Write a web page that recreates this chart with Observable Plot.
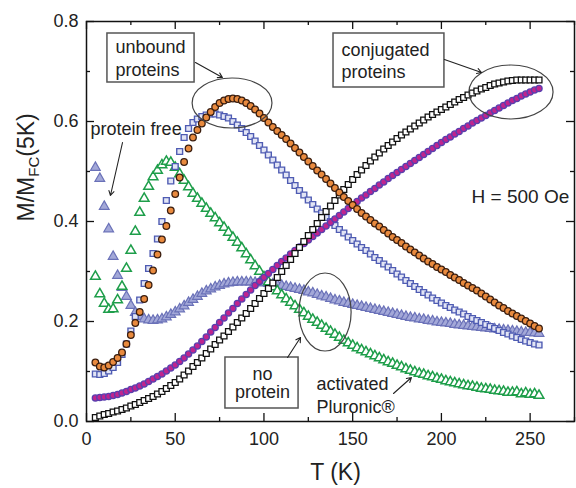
<!DOCTYPE html>
<html><head><meta charset="utf-8">
<script src="https://cdn.jsdelivr.net/npm/d3@7"></script>
<script src="https://cdn.jsdelivr.net/npm/@observablehq/plot@0.6"></script>
<style>body{margin:0;background:#fff} #chart{width:576px;height:488px}</style>
</head><body><div id="chart"></div>
<script>
// Temperature grid (K)
const T = [5,7.5,10,12.5,15,17.5,20,22.5,25,27.5,
30,32.5,35,37.5,40,42.5,45,47.5,50,52.5,
55,57.5,60,62.5,65,67.5,70,72.5,75,77.5,
80,82.5,85,87.5,90,92.5,95,97.5,100,102.5,
105,107.5,110,112.5,115,117.5,120,122.5,125,127.5,
130,132.5,135,137.5,140,142.5,145,147.5,150,152.5,
155,157.5,160,162.5,165,167.5,170,172.5,175,177.5,
180,182.5,185,187.5,190,192.5,195,197.5,200,202.5,
205,207.5,210,212.5,215,217.5,220,222.5,225,227.5,
230,232.5,235,237.5,240,242.5,245,247.5,250,252.5,
255];
// unbound proteins (orange circles)
const unboundA = [0.118,0.110,0.108,0.112,0.119,0.127,0.138,0.155,0.173,0.197,
0.219,0.245,0.273,0.302,0.334,0.364,0.391,0.422,0.455,0.488,
0.519,0.546,0.568,0.583,0.596,0.608,0.619,0.629,0.637,0.642,
0.645,0.646,0.645,0.642,0.637,0.631,0.624,0.616,0.607,0.598,
0.589,0.581,0.573,0.565,0.556,0.547,0.538,0.529,0.520,0.511,
0.502,0.494,0.485,0.476,0.467,0.458,0.449,0.441,0.433,0.425,
0.417,0.410,0.403,0.396,0.390,0.383,0.376,0.369,0.363,0.357,
0.350,0.344,0.338,0.332,0.326,0.320,0.315,0.309,0.304,0.299,
0.293,0.288,0.283,0.277,0.272,0.267,0.262,0.256,0.250,0.244,
0.238,0.232,0.227,0.221,0.216,0.211,0.206,0.201,0.196,0.191,
0.186];
// unbound proteins (blue squares)
const unboundB = [0.095,0.094,0.096,0.101,0.108,0.118,0.134,0.155,0.181,0.210,
0.243,0.276,0.306,0.336,0.365,0.400,0.442,0.481,0.510,0.540,
0.568,0.586,0.598,0.605,0.610,0.613,0.615,0.615,0.613,0.610,
0.607,0.600,0.593,0.586,0.578,0.570,0.561,0.552,0.543,0.533,
0.523,0.513,0.503,0.493,0.482,0.472,0.462,0.453,0.443,0.434,
0.425,0.417,0.408,0.400,0.392,0.384,0.377,0.369,0.362,0.355,
0.348,0.342,0.335,0.328,0.322,0.315,0.309,0.302,0.295,0.289,
0.282,0.276,0.270,0.264,0.258,0.253,0.247,0.242,0.237,0.232,
0.228,0.223,0.219,0.215,0.210,0.206,0.202,0.198,0.194,0.190,
0.186,0.182,0.178,0.175,0.171,0.168,0.164,0.161,0.158,0.155,
0.153];
// activated Pluronic (green triangles)
const pluronic = [0.290,0.255,0.236,0.224,0.225,0.243,0.270,0.306,0.342,0.380,
0.418,0.446,0.470,0.489,0.502,0.513,0.520,0.518,0.508,0.495,
0.482,0.469,0.456,0.446,0.436,0.426,0.416,0.407,0.397,0.388,
0.378,0.368,0.358,0.347,0.335,0.323,0.311,0.300,0.289,0.279,
0.269,0.261,0.253,0.245,0.238,0.231,0.224,0.217,0.210,0.204,
0.198,0.192,0.186,0.180,0.174,0.168,0.162,0.157,0.152,0.147,
0.143,0.139,0.135,0.131,0.127,0.123,0.119,0.116,0.112,0.109,
0.105,0.102,0.099,0.096,0.094,0.091,0.089,0.086,0.084,0.081,
0.079,0.077,0.075,0.073,0.071,0.070,0.068,0.066,0.065,0.064,
0.062,0.061,0.060,0.058,0.058,0.059,0.055,0.057,0.054,0.055,
0.052];
// protein free (blue-grey triangles)
const proteinFree = [0.508,0.486,0.430,0.385,0.330,0.292,0.268,0.250,0.232,0.218,
0.210,0.205,0.203,0.202,0.203,0.205,0.209,0.214,0.219,0.225,
0.231,0.238,0.244,0.250,0.256,0.261,0.265,0.269,0.272,0.275,
0.277,0.278,0.279,0.279,0.279,0.279,0.278,0.278,0.277,0.276,
0.275,0.274,0.272,0.270,0.268,0.266,0.264,0.262,0.259,0.257,
0.254,0.251,0.249,0.246,0.243,0.241,0.238,0.236,0.234,0.232,
0.230,0.228,0.226,0.224,0.222,0.220,0.218,0.216,0.214,0.212,
0.210,0.208,0.207,0.205,0.204,0.202,0.201,0.199,0.198,0.197,
0.196,0.194,0.193,0.192,0.191,0.190,0.189,0.188,0.187,0.186,
0.185,0.184,0.183,0.182,0.181,0.180,0.179,0.178,0.178,0.177,
0.176];
// conjugated proteins (black open squares)
const conjugatedA = [0.008,0.011,0.014,0.016,0.019,0.021,0.024,0.027,0.031,0.034,
0.038,0.042,0.046,0.050,0.055,0.060,0.066,0.072,0.078,0.085,
0.093,0.101,0.110,0.118,0.127,0.136,0.145,0.154,0.163,0.171,
0.180,0.189,0.198,0.207,0.216,0.226,0.236,0.246,0.256,0.266,
0.277,0.288,0.300,0.312,0.324,0.336,0.348,0.360,0.372,0.384,
0.396,0.408,0.420,0.431,0.442,0.453,0.464,0.474,0.484,0.494,
0.503,0.512,0.521,0.529,0.537,0.545,0.552,0.559,0.566,0.573,
0.579,0.585,0.591,0.597,0.603,0.609,0.614,0.619,0.624,0.629,
0.634,0.639,0.644,0.648,0.653,0.657,0.661,0.665,0.668,0.672,
0.675,0.677,0.679,0.681,0.682,0.683,0.683,0.683,0.683,0.683,
0.683];
// conjugated proteins (magenta circles)
const conjugatedB = [0.047,0.048,0.049,0.050,0.052,0.054,0.057,0.060,0.064,0.067,
0.071,0.075,0.080,0.085,0.090,0.095,0.101,0.107,0.113,0.120,
0.127,0.135,0.143,0.151,0.160,0.169,0.179,0.188,0.198,0.207,
0.217,0.226,0.236,0.245,0.254,0.263,0.272,0.280,0.288,0.296,
0.304,0.312,0.320,0.327,0.335,0.342,0.349,0.356,0.363,0.370,
0.377,0.384,0.391,0.398,0.405,0.412,0.419,0.426,0.433,0.440,
0.447,0.453,0.460,0.466,0.473,0.479,0.486,0.492,0.498,0.504,
0.510,0.516,0.522,0.528,0.534,0.540,0.546,0.552,0.558,0.564,
0.569,0.575,0.580,0.586,0.591,0.597,0.602,0.607,0.612,0.617,
0.622,0.627,0.632,0.637,0.642,0.646,0.651,0.655,0.659,0.663,
0.666];

// axis ticks
const xMajor = [0,50,100,150,200,250];
const xMinor = [25,75,125,175,225,275];
const yMajor = [0,0.2,0.4,0.6,0.8];
const yMinor = [0.1,0.3,0.5,0.7];

// annotations (data coordinates)
const boxes = [
  {x1:11.8, x2:60.9, y1:0.678, y2:0.776},
  {x1:139.2, x2:201.7, y1:0.668, y2:0.776},
  {x1:78.3, x2:119.5, y1:0.026, y2:0.128}
];
const textsStart = [
  {x:16.3, y:0.748, t:"unbound"},
  {x:16.3, y:0.702, t:"proteins"},
  {x:143.7, y:0.742, t:"conjugated"},
  {x:143.7, y:0.698, t:"proteins"},
  {x:2.3, y:0.584, t:"protein free"},
  {x:129.6, y:0.074, t:"activated"},
  {x:129.6, y:0.028, t:"Pluronic®"}
];
const textsMiddle = [
  {x:99.2, y:0.095, t:"no"},
  {x:99.2, y:0.058, t:"protein"}
];
const fieldLabel = [{x:217, y:0.45, t:"H = 500 Oe"}];
const arrows = [
  {x1:61.4, y1:0.718, x2:76.6, y2:0.688},
  {x1:201.7, y1:0.724, x2:222.6, y2:0.698},
  {x1:20.3, y1:0.558, x2:13.5, y2:0.452},
  {x1:113.3, y1:0.128, x2:120.6, y2:0.168},
  {x1:173, y1:0.056, x2:183.1, y2:0.088}
];
const ellipses = [
  {T:82.3, M:0.636, dT:22.5, dM:0.050},
  {T:239.5, M:0.658, dT:23.7, dM:0.054},
  {T:134.7, M:0.218, dT:14.7, dM:0.078}
];

const W = 576, H = 488, mL = 86, mR = 2, mT = 21, mB = 67;
const fW = W - mL - mR, fH = H - mT - mB;
const series = vals => T.map((t, i) => ({T: t, M: vals[i]}));

const ellipseMark = (index, scales) => {
  const g = d3.create("svg:g");
  for (const e of ellipses) {
    const cx = scales.x(e.T), cy = scales.y(e.M);
    const rx = Math.abs(scales.x(e.T + e.dT) - cx), ry = Math.abs(scales.y(e.M + e.dM) - cy);
    g.append("ellipse").attr("cx", cx).attr("cy", cy).attr("rx", rx).attr("ry", ry)
      .attr("fill", "none").attr("stroke", "#444").attr("stroke-width", 1.2);
  }
  return g.node();
};

const tk = {stroke: "#111", strokeWidth: 1.3};
const chart = Plot.plot({
  width: W, height: H,
  marginLeft: mL, marginRight: mR, marginTop: mT, marginBottom: mB,
  style: {fontFamily: "'Liberation Sans', Arial, sans-serif", fontSize: "18px", color: "#222", background: "white"},
  x: {domain: [0, 275], axis: null},
  y: {domain: [0, 0.8], axis: null},
  marks: [
    Plot.dot(series(proteinFree), {x: "T", y: "M", symbol: "triangle", r: 3.6, fill: "#a3a8d8", stroke: "#6a71b8", strokeWidth: 1.2}),
    Plot.dot(series(pluronic), {x: "T", y: "M", symbol: "triangle", r: 3.6, fill: "white", stroke: "#1e9e4a", strokeWidth: 1.5}),
    Plot.dot(series(unboundB), {x: "T", y: "M", symbol: "square", r: 3.3, fill: "#e2e5f5", stroke: "#4f5cb3", strokeWidth: 1.4}),
    Plot.dot(series(conjugatedB), {x: "T", y: "M", symbol: "circle", r: 3.1, fill: "#c0248e", stroke: "#5a3fae", strokeWidth: 1.3}),
    Plot.dot(series(conjugatedA), {x: "T", y: "M", symbol: "square", r: 3.3, fill: "white", stroke: "#111", strokeWidth: 1.3}),
    Plot.dot(series(unboundA), {x: "T", y: "M", symbol: "circle", r: 3.3, fill: "#e98a3e", stroke: "#3a1d0e", strokeWidth: 1.3}),
    ellipseMark,
    Plot.rect(boxes, {x1: "x1", x2: "x2", y1: "y1", y2: "y2", fill: "white", stroke: "#555", strokeWidth: 1.5}),
    Plot.arrow(arrows, {x1: "x1", y1: "y1", x2: "x2", y2: "y2", stroke: "#222", strokeWidth: 1.1, headLength: 7}),
    Plot.text(textsStart, {x: "x", y: "y", text: "t", textAnchor: "start", lineAnchor: "middle", fontSize: 18, fill: "#222"}),
    Plot.text(textsMiddle, {x: "x", y: "y", text: "t", textAnchor: "middle", lineAnchor: "middle", fontSize: 18, fill: "#222"}),
    Plot.text(fieldLabel, {x: "x", y: "y", text: "t", textAnchor: "start", lineAnchor: "middle", fontSize: 19, fill: "#222"}),
    // ticks (inward)
    Plot.tickX(xMajor, {x: d => d, insetTop: fH - 8, ...tk}),
    Plot.tickX(xMinor, {x: d => d, insetTop: fH - 4, ...tk}),
    Plot.tickX(xMajor, {x: d => d, insetBottom: fH - 8, ...tk}),
    Plot.tickX(xMinor, {x: d => d, insetBottom: fH - 4, ...tk}),
    Plot.tickY(yMajor, {y: d => d, insetRight: fW - 8, ...tk}),
    Plot.tickY(yMinor, {y: d => d, insetRight: fW - 4, ...tk}),
    Plot.tickY(yMajor, {y: d => d, insetLeft: fW - 8, ...tk}),
    Plot.tickY(yMinor, {y: d => d, insetLeft: fW - 4, ...tk}),
    Plot.frame({stroke: "#111", strokeWidth: 1.5}),
    Plot.axisX(xMajor, {anchor: "bottom", tickSize: 0, tickPadding: 11, fontSize: 18, label: null, tickFormat: d => String(d)}),
    Plot.axisY(yMajor, {anchor: "left", tickSize: 0, tickPadding: 8, fontSize: 18, label: null, tickFormat: d3.format(".1f")}),
    Plot.text(["T (K)"], {frameAnchor: "bottom", dx: 5, dy: 51, lineAnchor: "middle", fontSize: 23, fill: "#222"}),
    Plot.text(["M/MFC(5K)"], {frameAnchor: "left", dx: -60, rotate: -90, lineAnchor: "middle", fontSize: 23, fill: "#222"})
  ]
});
document.getElementById("chart").appendChild(chart);

// subscript for the y-axis label
d3.select(chart).selectAll("text").filter(function () { return this.textContent === "M/MFC(5K)"; })
  .each(function () {
    const t = d3.select(this);
    t.text(null);
    t.append("tspan").text("M/M");
    t.append("tspan").attr("font-size", 15).attr("dy", 5).text("FC");
    t.append("tspan").attr("dy", -5).text("(5K)");
  });
</script>
</body></html>
